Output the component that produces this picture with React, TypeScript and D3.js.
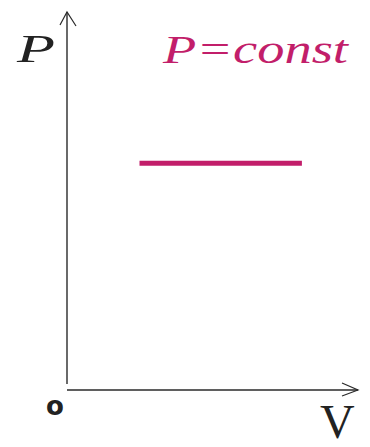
import React from "react";
import * as d3 from "d3";

const vDomain = [0, 10];
const pDomain = [0, 10];
const isobarV = [2.5, 8.1];
const isobarP = [6, 6];

export default function App() {
  const W = 370, H = 447;
  const x = d3.scaleLinear().domain(vDomain).range([67, 357]);
  const y = d3.scaleLinear().domain(pDomain).range([390, 12]);
  const pts: [number, number][] = isobarV.map((v, i) => [v, isobarP[i]]);
  const line = d3.line<[number, number]>().x(d => x(d[0])).y(d => y(d[1]));
  const axisColor = "#2a2a2a";
  const pink = "#c21e6a";
  return (
    <svg width={W} height={H} style={{ position: "absolute", left: 0, top: 0 }}>
      <rect width={W} height={H} fill="#fff" />
      <line x1={x(0)} y1={y(0) - 6} x2={x(0)} y2={y(10)} stroke={axisColor} strokeWidth={1.4} />
      <path d={`M${x(0) - 7},${y(10) + 13} L${x(0)},${y(10)} L${x(0) + 9},${y(10) + 14}`} fill="none" stroke={axisColor} strokeWidth={1.2} />
      <line x1={x(0)} y1={y(0)} x2={x(10) + 1} y2={y(0)} stroke={axisColor} strokeWidth={1.6} />
      <path d={`M${x(10) - 15},${y(0) - 7} L${x(10) + 1},${y(0)} L${x(10) - 15},${y(0) + 6}`} fill="none" stroke={axisColor} strokeWidth={1.2} />
      <path d={line(pts) || ""} stroke={pink} strokeWidth={5} fill="none" />
      <text x={17} y={62} fontFamily="'Liberation Serif', serif" fontStyle="italic" fontSize={40} fill="#222" textLength={38} lengthAdjust="spacingAndGlyphs">P</text>
      <text x={163} y={63} fontFamily="'Liberation Serif', serif" fontStyle="italic" fontSize={40} fill={pink} textLength={185} lengthAdjust="spacingAndGlyphs">P=const</text>
      <text x={46} y={415} fontFamily="'DejaVu Sans', sans-serif" fontWeight="bold" fontSize={26} fill="#222">o</text>
      <text x={320} y={438} fontFamily="'Liberation Serif', serif" fontSize={48} fill="#222">V</text>
    </svg>
  );
}
